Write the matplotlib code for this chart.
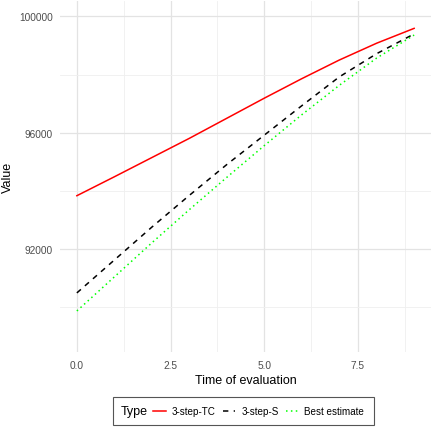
import numpy as np
import matplotlib
matplotlib.use("Agg")
import matplotlib.pyplot as plt
from matplotlib.lines import Line2D
from matplotlib.patches import Rectangle
from matplotlib.ticker import MultipleLocator

plt.rcParams['font.family'] = ['Liberation Sans', 'DejaVu Sans']

# values
time = np.arange(0, 10)
step3_tc = [93840, 94490, 95150, 95810, 96500, 97190, 97860, 98500, 99080, 99590]
step3_s = [90500, 91630, 92760, 93850, 94910, 95920, 96930, 97920, 98720, 99400]
best_est = [89880, 91050, 92220, 93360, 94470, 95560, 96620, 97630, 98570, 99360]

labels = ["3-step-TC", "3-step-S", "Best estimate"]
colors = ["#FF0000", "#000000", "#00FF00"]
styles = ["-", (0, (3.5, 3.5)), (0, (1, 2.2))]

W, H = 441, 435
fig = plt.figure(figsize=(W / 100, H / 100), dpi=100)
ax = fig.add_axes([60 / W, (H - 353) / H, (431 - 60) / W, (353 - 2) / H])

for y, lab, c, ls in zip([step3_tc, step3_s, best_est], labels, colors, styles):
    ax.plot(time, y, color=c, ls=ls, lw=1.1, label=lab)

ax.set_xlim(-0.45, 9.45)
ax.set_ylim(88470, 100530)
ax.xaxis.set_minor_locator(MultipleLocator(1.25))
ax.yaxis.set_minor_locator(MultipleLocator(2000))
ax.set_xticks([0, 2.5, 5, 7.5])
ax.set_xticklabels(["0.0", "2.5", "5.0", "7.5"])
ax.set_yticks([92000, 96000, 100000])
ax.set_yticklabels(["92000", "96000", "100000"])

ax.grid(which='major', color='#E3E3E3', lw=0.9)
ax.grid(which='minor', color='#EFEFEF', lw=0.6)
ax.set_axisbelow(True)
for s in ax.spines.values():
    s.set_visible(False)
ax.tick_params(which='both', length=0, labelsize=7.3, labelcolor='#4D4D4D')
ax.tick_params(axis='x', pad=6)
ax.tick_params(axis='y', pad=5)

ax.set_xlabel("Time of evaluation", fontsize=9, labelpad=3)
ax.set_ylabel("Value", fontsize=9, labelpad=4)

# legend box at the bottom, title placed to the left
fig.add_artist(Rectangle((113 / W, (H - 426) / H), (374 - 113) / W, 28 / H,
                         transform=fig.transFigure, fill=False,
                         edgecolor='#555555', lw=0.8))
fig.text(121 / W, (H - 412) / H, "Type", fontsize=9, va='center', ha='left')
handles = [Line2D([], [], color=c, ls=ls, lw=1.1) for c, ls in zip(colors, styles)]
fig.legend(handles, labels, loc='center left', bbox_to_anchor=(153 / W, (H - 412) / H),
           ncol=3, frameon=False, fontsize=7.1, handlelength=1.3, handletextpad=0.6,
           columnspacing=0.7, borderaxespad=0, borderpad=0)

fig.savefig("out.png", dpi=100)
